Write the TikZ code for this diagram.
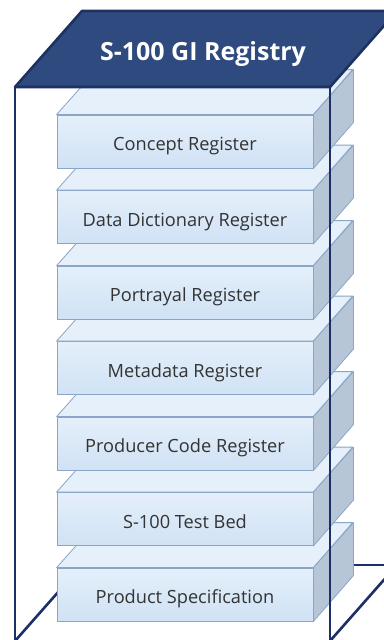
\documentclass[tikz,border=0pt]{standalone}
\usepackage{fontspec}
\setmainfont{Open Sans}
\definecolor{topdark}{HTML}{2E4A7E}
\definecolor{topline}{HTML}{1D3263}
\definecolor{cubeline}{HTML}{1C2F66}
\definecolor{boxline}{HTML}{8AA5C6}
\definecolor{boxtop}{HTML}{E5F0FB}
\definecolor{boxside}{HTML}{B6C6D7}
\definecolor{boxfrontA}{HTML}{E4EFFA}
\definecolor{boxfrontB}{HTML}{D0E2F5}
\definecolor{labeltext}{HTML}{333333}
\begin{document}
\begin{tikzpicture}[x=1pt,y=-1pt,
  cubeedge/.style={draw=cubeline,line width=2.6pt,line cap=round,line join=round},
  regbox/.style={draw=boxline,line width=0.8pt,top color=boxfrontA,bottom color=boxfrontB,
    minimum width=256pt,minimum height=53pt,inner sep=0pt,
    text height=18pt,text depth=0pt,text=labeltext,font=\fontsize{18.2}{21}\selectfont},
  boxtopface/.style={fill=boxtop,draw=boxline,line width=0.8pt,line join=round},
  boxsideface/.style={fill=boxside,draw=boxline,line width=0.8pt,line join=round},
  titletext/.style={text=white,font=\bfseries\fontsize{25}{29}\selectfont,inner sep=0pt}]
\useasboundingbox (0,0) rectangle (383,640);
\fill[white] (0,0) rectangle (383,640);
% cube corners
\coordinate (FTL) at (15,87);
\coordinate (FTR) at (330,87);
\coordinate (FBL) at (15,641);
\coordinate (FBR) at (330,641);
\coordinate (BTL) at (82,11);
\coordinate (BTR) at (397,11);
\coordinate (BBL) at (82,565);
\coordinate (BBR) at (397,565);
% back edges
\draw[cubeedge] (BTL) -- (BBL) -- (BBR) -- (BTR);
\draw[cubeedge] (BBL) -- (FBL);
\draw[cubeedge] (BBR) -- (FBR);
% register boxes, bottom first
\foreach \n/\y/\t in {b7/594.5/Product Specification,
                      b6/519/S-100 Test Bed,
                      b5/443.5/Producer Code Register,
                      b4/368/Metadata Register,
                      b3/292.5/Portrayal Register,
                      b2/217/Data Dictionary Register,
                      b1/141.5/Concept Register}{
  \node[regbox] (\n) at (185,\y) {\t};
  \draw[boxtopface] (\n.north west) -- ++(40,-45) -- ++(256,0) -- (\n.north east) -- cycle;
  \draw[boxsideface] (\n.north east) -- ++(40,-45) -- ++(0,53) -- (\n.south east) -- cycle;
}
% top face
\draw[fill=topdark,draw=topline,line width=2.6pt,line join=round] (FTL) -- (BTL) -- (BTR) -- (FTR) -- cycle;
\node[titletext,anchor=base] (title) at (203,60) {S-100 GI Registry};
% front edges
\draw[cubeedge] (FTL) -- (FBL) -- (FBR) -- (FTR);
\end{tikzpicture}
\end{document}
